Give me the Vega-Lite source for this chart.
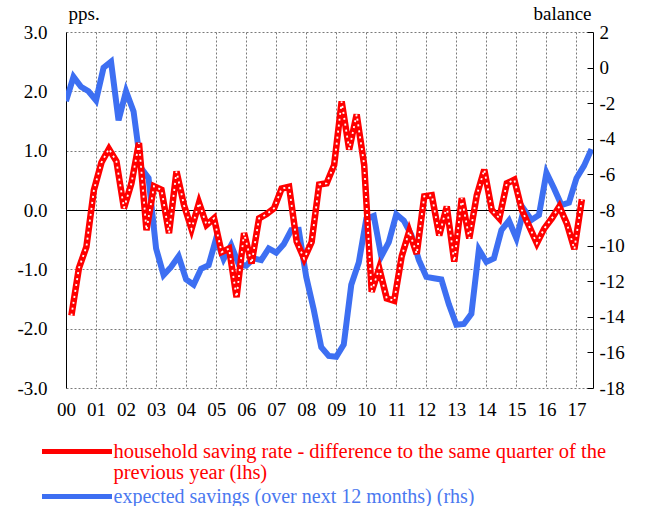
{
  "$schema": "https://vega.github.io/schema/vega-lite/v6.json",
  "width": 527,
  "height": 356,
  "autosize": {"type": "none"},
  "padding": {"left": 66, "top": 32, "right": 61, "bottom": 118},
  "background": "white",
  "config": {
    "view": {"stroke": null},
    "font": "Liberation Serif",
    "axis": {
      "labelFont": "Liberation Serif", "labelFontSize": 19, "labelColor": "#000",
      "labelOverlap": false, "labelFlush": false, "labelSeparation": 0,
      "titleFont": "Liberation Serif", "titleFontSize": 19, "titleFontWeight": "normal", "titleColor": "#000"
    },
    "legend": {"labelFont": "Liberation Serif", "labelFontSize": 20.5}
  },
  "datasets": {
    "red": [
      {"t": 2000.18, "v": -1.78}, {"t": 2000.43, "v": -0.98}, {"t": 2000.68, "v": -0.62}, {"t": 2000.93, "v": 0.34},
      {"t": 2001.18, "v": 0.8}, {"t": 2001.43, "v": 1.03}, {"t": 2001.68, "v": 0.82}, {"t": 2001.93, "v": 0.03},
      {"t": 2002.18, "v": 0.45}, {"t": 2002.43, "v": 1.13}, {"t": 2002.68, "v": -0.34}, {"t": 2002.93, "v": 0.4},
      {"t": 2003.18, "v": 0.34}, {"t": 2003.43, "v": -0.39}, {"t": 2003.68, "v": 0.65}, {"t": 2003.93, "v": 0.08},
      {"t": 2004.18, "v": -0.32}, {"t": 2004.43, "v": 0.12}, {"t": 2004.68, "v": -0.25}, {"t": 2004.93, "v": -0.14},
      {"t": 2005.18, "v": -0.71}, {"t": 2005.43, "v": -0.65}, {"t": 2005.68, "v": -1.47}, {"t": 2005.93, "v": -0.39},
      {"t": 2006.18, "v": -0.9}, {"t": 2006.43, "v": -0.14}, {"t": 2006.68, "v": -0.07}, {"t": 2006.93, "v": 0.03},
      {"t": 2007.18, "v": 0.36}, {"t": 2007.43, "v": 0.39}, {"t": 2007.68, "v": -0.53}, {"t": 2007.93, "v": -0.82},
      {"t": 2008.18, "v": -0.54}, {"t": 2008.43, "v": 0.43}, {"t": 2008.68, "v": 0.45}, {"t": 2008.93, "v": 0.76},
      {"t": 2009.18, "v": 1.83}, {"t": 2009.43, "v": 1.02}, {"t": 2009.68, "v": 1.61}, {"t": 2009.93, "v": 0.76},
      {"t": 2010.18, "v": -1.38}, {"t": 2010.43, "v": -0.98}, {"t": 2010.68, "v": -1.49}, {"t": 2010.93, "v": -1.53},
      {"t": 2011.18, "v": -0.78}, {"t": 2011.43, "v": -0.36}, {"t": 2011.68, "v": -0.74}, {"t": 2011.93, "v": 0.23},
      {"t": 2012.18, "v": 0.25}, {"t": 2012.43, "v": -0.43}, {"t": 2012.68, "v": 0.06}, {"t": 2012.93, "v": -0.87},
      {"t": 2013.18, "v": 0.2}, {"t": 2013.43, "v": -0.48}, {"t": 2013.68, "v": 0.25}, {"t": 2013.93, "v": 0.68},
      {"t": 2014.18, "v": 0.0}, {"t": 2014.43, "v": -0.14}, {"t": 2014.68, "v": 0.45}, {"t": 2014.93, "v": 0.51},
      {"t": 2015.18, "v": 0.0}, {"t": 2015.43, "v": -0.28}, {"t": 2015.68, "v": -0.56}, {"t": 2015.93, "v": -0.31},
      {"t": 2016.18, "v": -0.14}, {"t": 2016.43, "v": 0.06}, {"t": 2016.68, "v": -0.23}, {"t": 2016.93, "v": -0.66},
      {"t": 2017.18, "v": 0.18}
    ],
    "blue": [
      {"t": 2000.0, "v": -1.89}, {"t": 2000.25, "v": -0.52}, {"t": 2000.5, "v": -1.08}, {"t": 2000.75, "v": -1.33},
      {"t": 2001.0, "v": -1.84}, {"t": 2001.25, "v": -0.01}, {"t": 2001.5, "v": 0.33}, {"t": 2001.75, "v": -2.96},
      {"t": 2002.0, "v": -1.33}, {"t": 2002.25, "v": -2.46}, {"t": 2002.5, "v": -5.65}, {"t": 2002.75, "v": -6.21},
      {"t": 2003.0, "v": -10.16}, {"t": 2003.25, "v": -11.65}, {"t": 2003.5, "v": -11.2}, {"t": 2003.75, "v": -10.6},
      {"t": 2004.0, "v": -11.9}, {"t": 2004.25, "v": -12.2}, {"t": 2004.5, "v": -11.3}, {"t": 2004.75, "v": -11.1},
      {"t": 2005.0, "v": -9.6}, {"t": 2005.25, "v": -10.75}, {"t": 2005.5, "v": -9.97}, {"t": 2005.75, "v": -11.05},
      {"t": 2006.0, "v": -11.13}, {"t": 2006.25, "v": -10.72}, {"t": 2006.5, "v": -10.82}, {"t": 2006.75, "v": -10.16},
      {"t": 2007.0, "v": -10.4}, {"t": 2007.25, "v": -9.93}, {"t": 2007.5, "v": -9.13}, {"t": 2007.75, "v": -9.11},
      {"t": 2008.0, "v": -11.76}, {"t": 2008.25, "v": -13.6}, {"t": 2008.5, "v": -15.71}, {"t": 2008.75, "v": -16.2},
      {"t": 2009.0, "v": -16.25}, {"t": 2009.25, "v": -15.56}, {"t": 2009.5, "v": -12.2}, {"t": 2009.75, "v": -10.95},
      {"t": 2010.0, "v": -8.5}, {"t": 2010.25, "v": -8.33}, {"t": 2010.5, "v": -10.6}, {"t": 2010.75, "v": -9.8},
      {"t": 2011.0, "v": -8.24}, {"t": 2011.25, "v": -8.6}, {"t": 2011.5, "v": -9.4}, {"t": 2011.75, "v": -10.8},
      {"t": 2012.0, "v": -11.76}, {"t": 2012.25, "v": -11.83}, {"t": 2012.5, "v": -11.9}, {"t": 2012.75, "v": -13.3},
      {"t": 2013.0, "v": -14.45}, {"t": 2013.25, "v": -14.4}, {"t": 2013.5, "v": -13.83}, {"t": 2013.75, "v": -10.22},
      {"t": 2014.0, "v": -10.92}, {"t": 2014.25, "v": -10.72}, {"t": 2014.5, "v": -9.13}, {"t": 2014.75, "v": -8.6},
      {"t": 2015.0, "v": -9.6}, {"t": 2015.25, "v": -7.96}, {"t": 2015.5, "v": -8.56}, {"t": 2015.75, "v": -8.28},
      {"t": 2016.0, "v": -5.9}, {"t": 2016.25, "v": -6.78}, {"t": 2016.5, "v": -7.72}, {"t": 2016.75, "v": -7.59},
      {"t": 2017.0, "v": -6.21}, {"t": 2017.25, "v": -5.52}, {"t": 2017.5, "v": -4.58}
    ]
  },
  "encoding": {
    "x": {
      "field": "t", "type": "quantitative",
      "scale": {"domain": [2000, 2017.55], "nice": false, "zero": false},
      "axis": {
        "values": [2000, 2001, 2002, 2003, 2004, 2005, 2006, 2007, 2008, 2009, 2010, 2011, 2012, 2013, 2014, 2015, 2016, 2017],
        "tickCount": 18,
        "labelExpr": "slice(toString(datum.value), 2)",
        "grid": true, "gridColor": "#7a7a7a", "gridDash": [2, 2], "gridWidth": 1,
        "domain": false, "ticks": false, "labelPadding": 12, "title": null
      }
    }
  },
  "layer": [
    {
      "data": {"name": "blue"},
      "mark": {"type": "line", "strokeWidth": 6, "clip": true},
      "encoding": {
        "y": {
          "field": "v", "type": "quantitative",
          "scale": {"domain": [-18, 2], "nice": false, "zero": false},
          "axis": {
            "orient": "right",
            "values": [-18, -16, -14, -12, -10, -8, -6, -4, -2, 0, 2],
            "labelExpr": "(datum.value < 0 ? '-' : '') + format(abs(datum.value), 'd')",
            "grid": false, "domain": true, "domainColor": "#000", "domainWidth": 1,
            "ticks": true, "tickSize": -6, "tickColor": "#000", "labelPadding": 12,
            "title": "balance", "titleAngle": 0, "titleAlign": "right", "titleBaseline": "alphabetic",
            "titleX": -2, "titleY": -13
          }
        },
        "stroke": {
          "datum": "expected savings (over next 12 months) (rhs)", "type": "nominal",
          "scale": {"domain": ["expected savings (over next 12 months) (rhs)"], "range": ["#3d6ff2"]},
          "legend": {
            "orient": "none", "legendX": -26.5, "legendY": 427, "direction": "vertical",
            "title": null, "padding": 0,
            "symbolType": "stroke", "symbolSize": 4900, "symbolStrokeWidth": 5,
            "labelLimit": 700, "labelOffset": -1, "labelColor": "#4a78f0", "labelFontSize": 20
          }
        }
      }
    },
    {
      "data": {"name": "red"},
      "encoding": {
        "y": {
          "field": "v", "type": "quantitative",
          "scale": {"domain": [-3, 3], "nice": false, "zero": false},
          "axis": {
            "orient": "left",
            "values": [-3, -2, -1, 0, 1, 2, 3],
            "labelExpr": "(datum.value < 0 ? '-' : '') + format(abs(datum.value), '.1f')",
            "grid": true,
            "gridColor": {"condition": {"test": "datum.value === 0", "value": "#000000"}, "value": "#7a7a7a"},
            "gridDash": {"condition": {"test": "datum.value === 0", "value": []}, "value": [2, 2]},
            "gridWidth": 1,
            "domain": true, "domainColor": "#000", "domainWidth": 1,
            "ticks": false, "labelPadding": 19,
            "title": "pps.", "titleAngle": 0, "titleAlign": "left", "titleBaseline": "alphabetic",
            "titleX": 2, "titleY": -13
          }
        }
      },
      "layer": [
        {
          "mark": {"type": "line", "strokeWidth": 6.5, "clip": true},
          "encoding": {
            "color": {
              "datum": "household saving rate - difference to the same quarter of the previous year (lhs)", "type": "nominal",
              "scale": {"domain": ["household saving rate - difference to the same quarter of the previous year (lhs)"], "range": ["#ff0000"]},
              "legend": {
                "orient": "none", "legendX": -26.5, "legendY": 382, "direction": "vertical",
                "title": null, "padding": 0,
                "symbolType": "stroke", "symbolSize": 4900, "symbolStrokeWidth": 5,
                "labelLimit": 700, "labelOffset": -1, "labelColor": "#ff0000", "labelFontSize": 20.5,
                "labelExpr": "['household saving rate - difference to the same quarter of the', 'previous year (lhs)']",
                "encode": {"labels": {"update": {"lineHeight": {"value": 21}}}}
              }
            }
          }
        },
        {
          "mark": {"type": "line", "strokeWidth": 1.8, "color": "#ffffff", "strokeDash": [2, 4], "clip": true}
        }
      ]
    }
  ],
  "resolve": {"scale": {"y": "independent"}}
}
